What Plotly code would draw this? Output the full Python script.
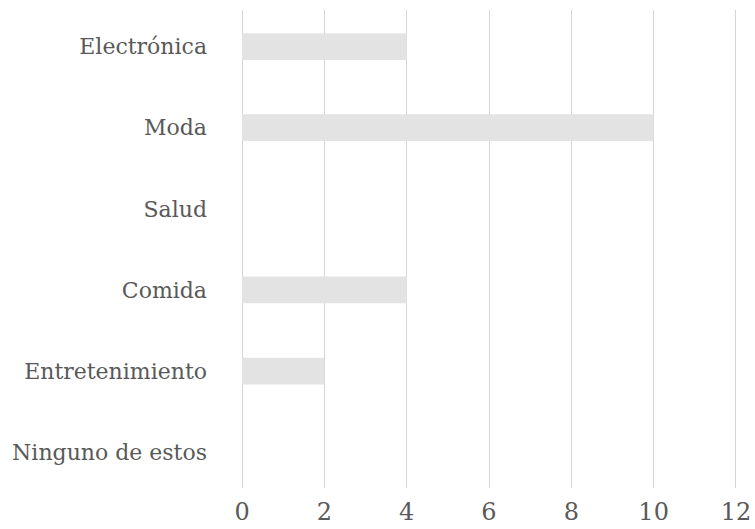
import plotly.graph_objects as go

categories = ["Electrónica", "Moda", "Salud", "Comida", "Entretenimiento", "Ninguno de estos"]
values = [4, 10, 0, 4, 2, 0]
x_ticks = [0, 2, 4, 6, 8, 10, 12]

fig = go.Figure(go.Bar(
    x=values, y=categories, orientation="h",
    marker=dict(color="#e3e3e3", line=dict(width=0)),
    width=0.33,
))

fig.update_layout(
    width=755, height=529,
    margin=dict(l=240, r=17, t=10, b=41, autoexpand=False),
    paper_bgcolor="white", plot_bgcolor="white",
    font=dict(family="DejaVu Serif", size=22, color="#595959"),
    showlegend=False,
)
fig.update_xaxes(
    range=[-0.05, 12.05], tickvals=x_ticks, ticktext=[str(v) for v in x_ticks],
    showgrid=True, gridcolor="#d4d4d4", gridwidth=1,
    zeroline=False, showline=False, ticks="", ticklabelstandoff=7,
    automargin=False, tickfont=dict(size=24),
)
fig.update_yaxes(
    range=[5.44, -0.45], showgrid=False, zeroline=False, showline=False,
    ticks="", ticklabelstandoff=32, automargin=False,
)
fig.write_html("out.html")
